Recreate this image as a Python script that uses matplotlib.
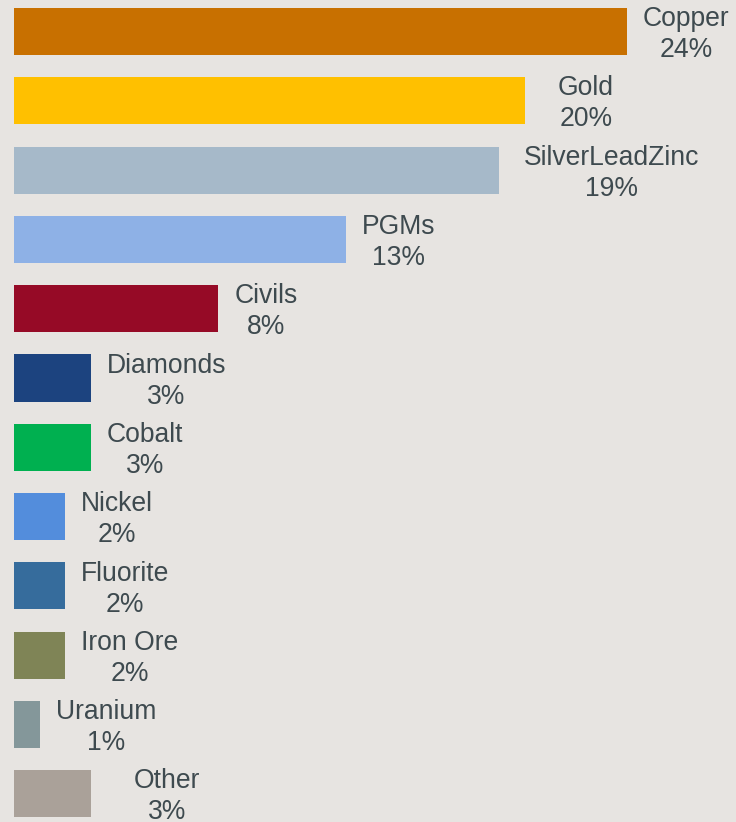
import matplotlib
matplotlib.use("Agg")
import matplotlib.pyplot as plt

categories = ["Copper", "Gold", "SilverLeadZinc", "PGMs", "Civils", "Diamonds",
              "Cobalt", "Nickel", "Fluorite", "Iron Ore", "Uranium", "Other"]
shares = [24, 20, 19, 13, 8, 3, 3, 2, 2, 2, 1, 3]
colors = ["#C87000", "#FFC000", "#A6B9C9", "#8EB1E6", "#960A26", "#1C437F",
          "#00B050", "#538DDC", "#366C9C", "#7F8456", "#84979A", "#AAA199"]

BG = "#E7E4E1"
TEXT = "#3E4A4F"

# a few labels sit a little further out from their bar end (points)
label_nudge = {"Gold": 12.2, "SilverLeadZinc": 6.1, "Other": 19.4}

plt.rcParams["font.family"] = ["Liberation Sans", "DejaVu Sans"]

fig = plt.figure(figsize=(7.36, 8.22), dpi=100, facecolor=BG)
ax = fig.add_axes([14 / 736, 0, 1 - 14 / 736, 1])
ax.set_facecolor(BG)

y = list(range(len(categories)))
ax.barh(y, shares, height=0.68, color=colors, edgecolor="none")

for yi, cat, val in zip(y, categories, shares):
    dx = 11.5 + label_nudge.get(cat, 0.0)
    ax.annotate(f"{cat}\n{val}%", xy=(val, yi), xytext=(dx, -2.3),
                textcoords="offset points", ha="left", va="center",
                multialignment="center", fontsize=19.1, color=TEXT,
                linespacing=1.25)

ax.set_xlim(0, (736 - 14) / 25.54)
ax.set_ylim(11.407, -0.4545)
ax.axis("off")

fig.savefig("out.png", dpi=100, facecolor=BG)
